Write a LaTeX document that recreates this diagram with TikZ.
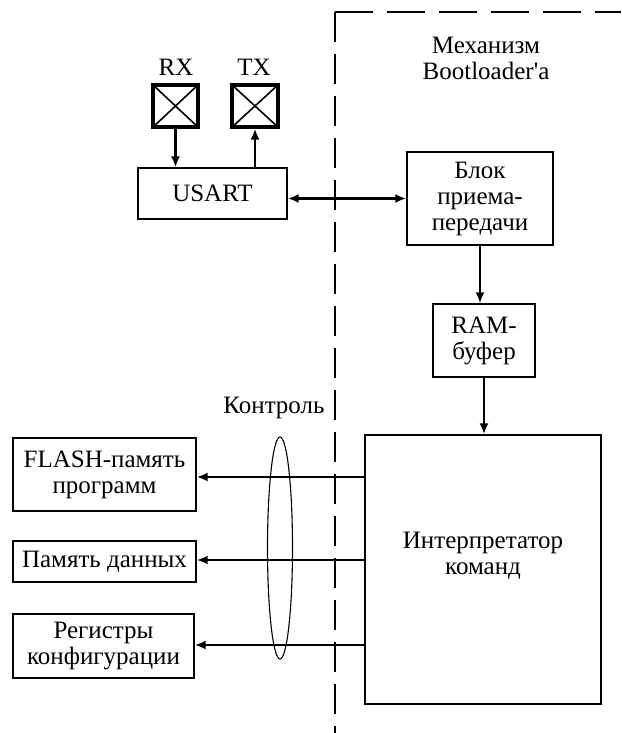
\documentclass[tikz,border=0pt]{standalone}
\usepackage{fontspec}
\setmainfont{Liberation Serif}
\usetikzlibrary{arrows.meta,shapes.geometric}
\begin{document}
\begin{tikzpicture}[x=0.5pt,y=-0.5pt,
  every node/.style={font=\fontsize{12.5}{13}\selectfont, inner sep=0pt, align=center},
  blockbox/.style={draw, line width=0.7pt},
  pinbox/.style={draw, line width=1.6pt, minimum width=22.5pt, minimum height=21pt},
  arr/.style={line width=1.4pt, -{Latex[length=5.5pt,width=4.5pt]}},
  darr/.style={line width=1.4pt, {Latex[length=5.5pt,width=4.5pt]}-{Latex[length=5.5pt,width=4.5pt]}},
  bound/.style={line width=0.7pt}]
\useasboundingbox (0,0) rectangle (621,733);
% boundary of the bootloader area
\coordinate (corner) at (335,12);
\coordinate (bottomend) at (335,733);
\coordinate (rightend) at (621,12);
\draw[bound, dash pattern=on 19pt off 7pt] (corner) -- (rightend);
\draw[bound, dash pattern=on 15pt off 6pt] (corner) -- (bottomend);
% labels
\node (mech) at (486,58) {Механизм\\Bootloader\textquotesingle a};
\node (rxl) at (176,67) {RX};
\node (txl) at (254,67) {TX};
\node (ctrll) at (274,408) {Контроль};
% pins
\node[pinbox] (rx) at (175.5,106) {};
\node[pinbox, minimum width=23pt] (tx) at (255,106) {};
\draw[line width=0.8pt] (rx.north west) -- (rx.south east) (rx.north east) -- (rx.south west);
\draw[line width=0.8pt] (tx.north west) -- (tx.south east) (tx.north east) -- (tx.south west);
% blocks
\node[blockbox, minimum width=74.5pt, minimum height=25.5pt] (usart) at (212.5,193.5) {USART};
\node[blockbox, minimum width=73pt, minimum height=46.5pt] (blok) at (480,198.5) {Блок\\приема-\\передачи};
\node[blockbox, minimum width=51pt, minimum height=36.5pt] (ram) at (484,340.5) {RAM-\\буфер};
\node[blockbox, minimum width=118pt, minimum height=134.5pt] (interp) at (483,569.5) {Интерпретатор\\команд\\[3pt]};
\node[blockbox, minimum width=91.5pt, minimum height=36.5pt] (flash) at (104.5,474.5) {FLASH-память\\программ};
\node[blockbox, minimum width=91.5pt, minimum height=20.5pt] (mem) at (104.5,561.5) {Память данных};
\node[blockbox, minimum width=90.5pt, minimum height=32pt] (reg) at (103.5,646) {Регистры\\конфигурации};
% control ellipse
\node[ellipse, draw, line width=0.55pt, minimum width=12.5pt, minimum height=111pt] (ctrl) at (280,548) {};
% connectors
\draw[arr] (rx.south) -- (rx.south |- usart.north);
\draw[arr] (tx.south |- usart.north) -- (tx.south);
\draw[darr] (usart.east |- blok.west) -- (blok.west);
\draw[arr] (blok.south) -- (blok.south |- ram.north);
\draw[arr] (ram.south) -- (ram.south |- interp.north);
\draw[arr] (interp.west |- 0,477) -- (flash.east |- 0,477);
\draw[arr] (interp.west |- 0,560) -- (mem.east |- 0,560);
\draw[arr] (interp.west |- 0,645) -- (reg.east |- 0,645);
\end{tikzpicture}
\end{document}
